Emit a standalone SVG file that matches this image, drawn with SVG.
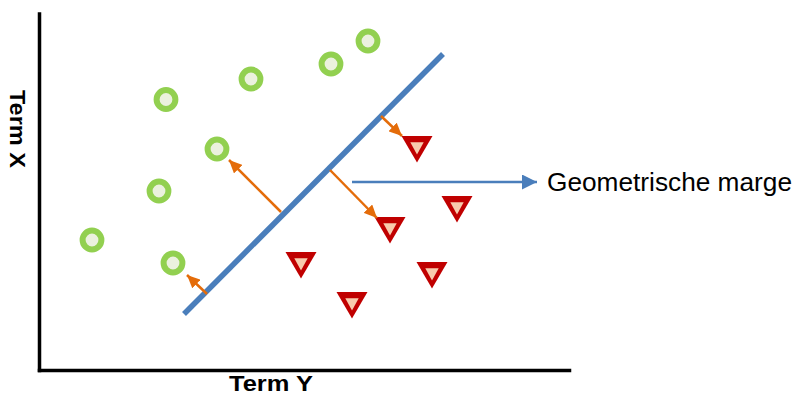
<svg xmlns="http://www.w3.org/2000/svg" width="797" height="396" viewBox="0 0 797 396">
<style>
.ring{fill:#EBF1DE;stroke:#92D050;stroke-width:6}
.tri-o{fill:#C00000}
.tri-i{fill:#F8CBAD}
.axis{stroke:#000;stroke-width:3.5;fill:none;stroke-linecap:square}
.sep{stroke:#4A7EBB;stroke-width:5.5;stroke-linecap:butt}
.orange{stroke:#E46C0A;stroke-width:2.5;fill:none}
.blue{stroke:#4A7EBB;stroke-width:2.5;fill:none}
.lab{font-family:"Liberation Sans",Arial,sans-serif;font-weight:bold;font-size:22px;fill:#000}
.note{font-family:"Liberation Sans",Arial,sans-serif;font-size:25px;fill:#000}
</style>
<defs>
<marker id="ah-o" markerUnits="userSpaceOnUse" markerWidth="14" markerHeight="12" refX="13" refY="6" orient="auto">
<path d="M0,0 L13,6 L0,12 Z" fill="#E46C0A"/>
</marker>
<marker id="ah-b" markerUnits="userSpaceOnUse" markerWidth="16" markerHeight="16" refX="15" refY="7.5" orient="auto">
<path d="M0,0 L15,7.5 L0,15 Z" fill="#4A7EBB"/>
</marker>
<g id="tri">
<polygon class="tri-o" points="-15.5,0 15.5,0 0,26.5"/>
<polygon class="tri-i" points="-6.7,6.3 6.7,6.3 0,18.5"/>
</g>
</defs>
<g id="axes">
<line class="axis" x1="39.5" y1="14" x2="39.5" y2="370.5"/>
<line class="axis" x1="39.5" y1="370.5" x2="569.5" y2="370.5"/>
</g>
<g id="class-a">
<circle class="ring" cx="166" cy="99.5" r="9.4"/>
<circle class="ring" cx="251" cy="79" r="9.4"/>
<circle class="ring" cx="331" cy="64" r="9.4"/>
<circle class="ring" cx="368" cy="41" r="9.4"/>
<circle class="ring" cx="217" cy="149" r="9.4"/>
<circle class="ring" cx="159" cy="191" r="9.4"/>
<circle class="ring" cx="92" cy="240" r="9.4"/>
<circle class="ring" cx="173" cy="263" r="9.4"/>
</g>
<g id="class-b">
<use href="#tri" x="417" y="136"/>
<use href="#tri" x="457" y="196"/>
<use href="#tri" x="390" y="217"/>
<use href="#tri" x="432" y="262"/>
<use href="#tri" x="352" y="292"/>
<use href="#tri" x="301" y="252"/>
</g>
<g id="separator">
<line class="sep" x1="184" y1="314" x2="443" y2="54"/>
</g>
<g id="connectors">
<line class="orange" x1="381" y1="116" x2="402" y2="136" marker-end="url(#ah-o)"/>
<line class="orange" x1="330" y1="170" x2="377" y2="218" marker-end="url(#ah-o)"/>
<line class="orange" x1="281" y1="212" x2="229" y2="160" marker-end="url(#ah-o)"/>
<line class="orange" x1="207" y1="294" x2="187" y2="275" marker-end="url(#ah-o)"/>
<line class="blue" x1="352" y1="182" x2="537" y2="182" marker-end="url(#ah-b)"/>
</g>
<g id="labels">
<text class="note" x="547" y="191" textLength="245" lengthAdjust="spacingAndGlyphs">Geometrische marge</text>
<text class="lab" x="271" y="391" text-anchor="middle" textLength="84" lengthAdjust="spacingAndGlyphs">Term Y</text>
<text class="lab" x="10" y="129" text-anchor="middle" transform="rotate(90 10 129)" textLength="78" lengthAdjust="spacingAndGlyphs">Term X</text>
</g>
</svg>
